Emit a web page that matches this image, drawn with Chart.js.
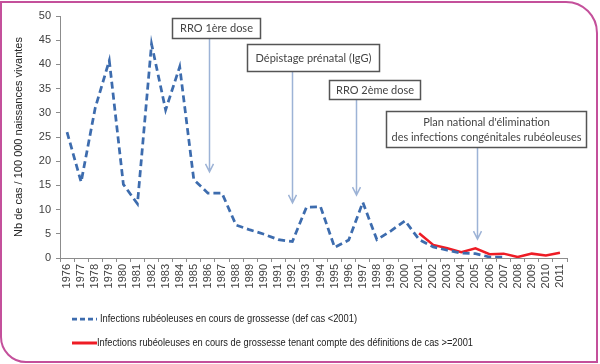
<!DOCTYPE html>
<html>
<head>
<meta charset="utf-8">
<script src="https://cdn.jsdelivr.net/npm/chart.js@4.4.1/dist/chart.umd.min.js"></script>
<style>
  html, body { margin:0; padding:0; background:#fff; }
  #wrap { position:relative; width:600px; height:364px; }
  #frame { position:absolute; left:0; top:1px; width:594px; height:358px;
           border:2px solid #c4509b; border-radius:0 32px 0 26px; pointer-events:none; }
  canvas { position:absolute; left:0; top:0; }
</style>
</head>
<body>
<div id="wrap">
  <canvas id="c" width="600" height="364"></canvas>
  <div id="frame"></div>
</div>
<script>
// ---- Data ----
const years = ['1976','1977','1978','1979','1980','1981','1982','1983','1984','1985',
  '1986','1987','1988','1989','1990','1991','1992','1993','1994','1995','1996','1997',
  '1998','1999','2000','2001','2002','2003','2004','2005','2006','2007','2008','2009','2010','2011'];

const seriesOld = [26, 15.7, 31, 40.8, 15.2, 11.2, 44.2, 30.6, 39.5, 16.2,
  13.4, 13.4, 6.8, 5.8, 4.9, 3.8, 3.4, 10.5, 10.6, 2.2, 3.7, 11.5,
  3.8, 5.6, 7.7, 3.8, 2.3, 1.6, 1.0, 0.9, 0.2, 0.2, null, null, null, null];

const seriesNew = [null, null, null, null, null, null, null, null, null, null,
  null, null, null, null, null, null, null, null, null, null, null, null,
  null, null, null, 5.1, 2.7, 2.0, 1.2, 2.0, 0.8, 0.9, 0.2, 0.9, 0.5, 1.1];

const seriesNames = [
  'Infections rubéoleuses en cours de grossesse (def cas <2001)',
  'Infections rubéoleuses en cours de grossesse tenant compte des définitions de cas >=2001'
];

const yTitle = 'Nb de cas / 100 000 naissances vivantes';

// annotations: text lines, category position (index) of arrow, value at arrow tip
const annotTexts = [
  ['RRO 1ère dose'],
  ['Dépistage prénatal (IgG)'],
  ['RRO 2ème dose'],
  ["Plan national d'élimination", 'des infections congénitales rubéoleuses']
];
const annotIndex = [10.1, 16, 20.5, 29.1];
const annotTipValue = [17.8, 11.4, 13.0, 3.9];

// ---- Styling / layout ----
const BLUE = '#3d6cae';
const RED = '#ee1c25';
const AXIS = '#8c8c8c';
const TXT = '#404040';
const boxes = [
  {x:172, y:18, w:88, h:20},
  {x:247, y:44, w:132, h:27},
  {x:329, y:80, w:91, h:19},
  {x:386, y:111, w:200, h:36}
];
const textMax = [[76], [118], [78], [150, 190]];

const overlay = {
  id: 'overlay',
  afterDraw(chart) {
    const ctx = chart.ctx;
    const xs = chart.scales.x, ys = chart.scales.y;
    ctx.save();
    // arrows
    ctx.strokeStyle = '#9db3d6';
    ctx.lineWidth = 1.5;
    boxes.forEach((b, i) => {
      const ax = Math.round(xs.getPixelForValue(annotIndex[i])) + 0.5;
      const ay = ys.getPixelForValue(annotTipValue[i]);
      ctx.beginPath();
      ctx.moveTo(ax, b.y + b.h);
      ctx.lineTo(ax, ay);
      ctx.moveTo(ax - 4, ay - 8);
      ctx.lineTo(ax, ay);
      ctx.lineTo(ax + 4, ay - 8);
      ctx.stroke();
    });
    // boxes
    boxes.forEach((b, i) => {
      ctx.fillStyle = '#fff';
      ctx.fillRect(b.x, b.y, b.w, b.h);
      ctx.strokeStyle = '#555';
      ctx.lineWidth = 1.5;
      ctx.strokeRect(b.x + 0.5, b.y + 0.5, b.w, b.h);
      ctx.fillStyle = '#444';
      ctx.font = '11px Lato';
      ctx.textAlign = 'center';
      ctx.textBaseline = 'middle';
      const lines = annotTexts[i];
      const lh = 15;
      const cy = b.y + b.h / 2 + 0.5;
      lines.forEach((t, k) => {
        const y = cy + (k - (lines.length - 1) / 2) * lh;
        ctx.fillText(t, b.x + b.w / 2 + 0.5, y, textMax[i][k]);
      });
    });
    // legend
    ctx.textAlign = 'left';
    ctx.textBaseline = 'middle';
    ctx.font = '11px "Liberation Sans"';
    ctx.fillStyle = '#222';
    ctx.lineWidth = 2.75;
    ctx.strokeStyle = BLUE;
    ctx.setLineDash([5, 3]);
    ctx.beginPath(); ctx.moveTo(72, 319); ctx.lineTo(97, 319); ctx.stroke();
    ctx.setLineDash([]);
    ctx.fillText(seriesNames[0], 100, 319, 257);
    ctx.strokeStyle = RED;
    ctx.lineWidth = 3;
    ctx.beginPath(); ctx.moveTo(72, 343); ctx.lineTo(97, 343); ctx.stroke();
    ctx.fillText(seriesNames[1], 97, 343, 376);
    ctx.restore();
  }
};

new Chart(document.getElementById('c'), {
  type: 'line',
  data: {
    labels: years,
    datasets: [
      { label: seriesNames[0], data: seriesOld, borderColor: BLUE, borderWidth: 2.75,
        borderDash: [7, 4], pointRadius: 0, tension: 0, fill: false, spanGaps: false },
      { label: seriesNames[1], data: seriesNew, borderColor: RED, borderWidth: 2.5,
        pointRadius: 0, tension: 0, fill: false }
    ]
  },
  options: {
    responsive: false,
    animation: false,
    devicePixelRatio: 1,
    layout: { padding: { left: 12, right: 33, top: 16, bottom: 66 } },
    plugins: { legend: { display: false }, tooltip: { enabled: false } },
    scales: {
      x: {
        type: 'category',
        offset: true,
        grid: { display: true, drawOnChartArea: false, offset: true, tickLength: 4, color: AXIS },
        border: { color: AXIS },
        ticks: { autoSkip: false, minRotation: 90, maxRotation: 90, padding: 2,
                 color: TXT, font: { family: 'Liberation Sans', size: 11 } },
        afterFit: s => { s.height = 40; }
      },
      y: {
        min: 0, max: 50,
        grid: { display: true, drawOnChartArea: false, tickLength: 4, color: AXIS },
        border: { color: AXIS },
        ticks: { stepSize: 5, padding: 5, color: TXT, font: { family: 'Liberation Sans', size: 11 } },
        title: { display: true, text: yTitle, color: '#222', padding: { top: 0, bottom: 4 },
                 font: { family: 'Liberation Sans', size: 11 } },
        afterFit: s => { s.width = 48; }
      }
    }
  },
  plugins: [overlay]
});
</script>
</body>
</html>
